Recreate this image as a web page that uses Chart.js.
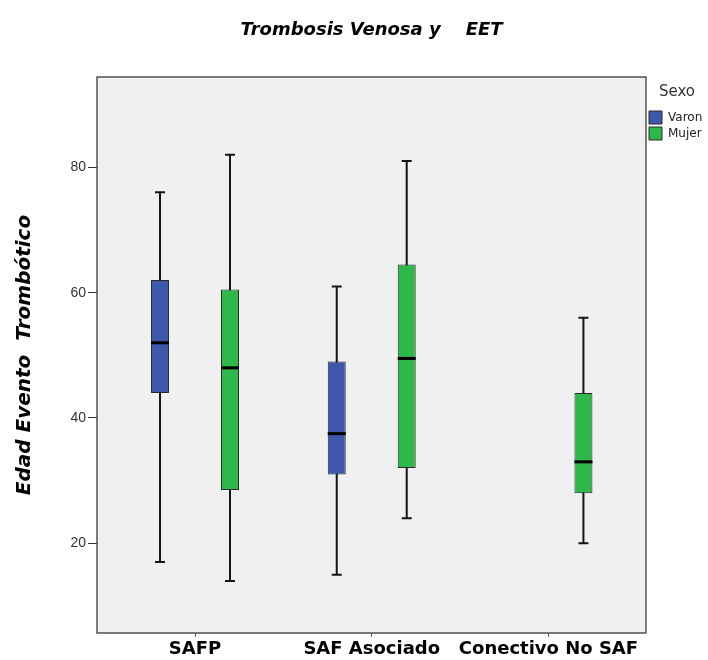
<!DOCTYPE html>
<html>
<head>
<meta charset="utf-8">
<script src="https://cdn.jsdelivr.net/npm/chart.js@4.4.1/dist/chart.umd.min.js"></script>
<style>
html, body { margin: 0; padding: 0; background: #ffffff; }
#wrap { width: 708px; height: 660px; }
</style>
</head>
<body>
<div id="wrap"><canvas id="c" width="708" height="660"></canvas></div>
<script>
// ---- data ----
const categories = ['SAFP', 'SAF Asociado', 'Conectivo No SAF'];
const seriesNames = ['Varon', 'Mujer'];

const varonMin    = [17, 15, null];
const varonQ1     = [44, 31, null];
const varonMedian = [52, 37.5, null];
const varonQ3     = [62, 49, null];
const varonMax    = [76, 61, null];

const mujerMin    = [14, 24, 20];
const mujerQ1     = [28.5, 32, 28];
const mujerMedian = [48, 49.5, 33];
const mujerQ3     = [60.5, 64.5, 44];
const mujerMax    = [82, 81, 56];

const yTicks = [20, 40, 60, 80];

// ---- build ----
function boxData(q1, q3) {
  const pts = [];
  categories.forEach((c, i) => {
    if (q1[i] != null && q3[i] != null) pts.push({ x: i + 1, y: [q1[i], q3[i]] });
  });
  return pts;
}
const stats = [
  { min: varonMin, med: varonMedian, max: varonMax },
  { min: mujerMin, med: mujerMedian, max: mujerMax }
];

const boxPlot = {
  id: 'boxPlot',
  beforeDraw(chart) {
    const { ctx, chartArea: a } = chart;
    ctx.save();
    ctx.fillStyle = '#f0f0f0';
    ctx.fillRect(a.left, a.top, a.right - a.left, a.bottom - a.top);
    ctx.restore();
  },
  beforeDatasetsDraw(chart) {
    const { ctx } = chart;
    const y = chart.scales.y;
    ctx.save();
    ctx.strokeStyle = '#141414';
    ctx.lineWidth = 2;
    chart.data.datasets.forEach((ds, d) => {
      const meta = chart.getDatasetMeta(d);
      meta.data.forEach((bar, i) => {
        const k = ds.data[i].x - 1;
        const x = bar.x;
        const y0 = y.getPixelForValue(stats[d].min[k]);
        const y1 = y.getPixelForValue(stats[d].max[k]);
        ctx.beginPath();
        ctx.moveTo(x, y0); ctx.lineTo(x, y1);
        ctx.moveTo(x - 5, y0); ctx.lineTo(x + 5, y0);
        ctx.moveTo(x - 5, y1); ctx.lineTo(x + 5, y1);
        ctx.stroke();
      });
    });
    ctx.restore();
  },
  afterDatasetsDraw(chart) {
    const { ctx, chartArea: a } = chart;
    const y = chart.scales.y;
    ctx.save();
    ctx.strokeStyle = '#000000';
    ctx.lineWidth = 3;
    chart.data.datasets.forEach((ds, d) => {
      const meta = chart.getDatasetMeta(d);
      meta.data.forEach((bar, i) => {
        const k = ds.data[i].x - 1;
        const ym = y.getPixelForValue(stats[d].med[k]);
        ctx.beginPath();
        ctx.moveTo(bar.x - bar.width / 2, ym);
        ctx.lineTo(bar.x + bar.width / 2, ym);
        ctx.stroke();
      });
    });
    ctx.strokeStyle = '#505050';
    ctx.lineWidth = 1.5;
    ctx.strokeRect(a.left, a.top, a.right - a.left, a.bottom - a.top);
    ctx.restore();
  }
};

new Chart(document.getElementById('c'), {
  type: 'bar',
  data: {
    datasets: [
      {
        label: seriesNames[0],
        data: boxData(varonQ1, varonQ3),
        backgroundColor: '#3e58ac',
        borderColor: '#2a2a2a',
        borderWidth: 1,
        borderSkipped: false
      },
      {
        label: seriesNames[1],
        data: boxData(mujerQ1, mujerQ3),
        backgroundColor: '#2fb84a',
        borderColor: '#2a2a2a',
        borderWidth: 1,
        borderSkipped: false
      }
    ]
  },
  options: {
    responsive: false,
    animation: false,
    devicePixelRatio: 1,
    layout: { padding: 0 },
    datasets: { bar: { categoryPercentage: 0.792, barPercentage: 0.257 } },
    plugins: {
      tooltip: { enabled: false },
      title: {
        display: true,
        fullSize: false,
        text: 'Trombosis Venosa y    EET',
        color: '#000000',
        font: { family: 'DejaVu Sans', size: 18, weight: 'bold', style: 'italic' },
        padding: { top: 20, bottom: 35.4 }
      },
      legend: {
        position: 'right',
        align: 'start',
        fullSize: false,
        maxWidth: 62,
        title: {
          display: true,
          text: 'Sexo',
          color: '#333333',
          font: { family: 'DejaVu Sans', size: 15 },
          padding: { top: 8, bottom: 5 }
        },
        labels: {
          boxWidth: 13,
          boxHeight: 13,
          padding: 3,
          color: '#222222',
          font: { family: 'DejaVu Sans', size: 12 }
        }
      }
    },
    scales: {
      x: {
        type: 'linear',
        min: 0.4454,
        max: 3.552,
        offset: false,
        border: { display: false },
        grid: { offset: false, drawOnChartArea: false, drawTicks: true, tickLength: 4, color: '#555555' },
        afterBuildTicks: s => { s.ticks = categories.map((c, i) => ({ value: i + 1 })); },
        afterFit: s => { s.height = 27; },
        ticks: {
          autoSkip: false,
          maxRotation: 0,
          padding: 2,
          color: '#000000',
          font: { family: 'DejaVu Sans', size: 18, weight: 'bold' },
          callback: v => categories[Math.round(v) - 1]
        }
      },
      y: {
        type: 'linear',
        min: 5.69,
        max: 94.41,
        border: { display: false },
        grid: { drawOnChartArea: false, drawTicks: true, tickLength: 9, color: '#333333' },
        afterBuildTicks: s => { s.ticks = yTicks.map(v => ({ value: v })); },
        afterFit: s => { s.width = 97; },
        ticks: {
          padding: 2,
          color: '#333333',
          font: { family: 'Liberation Sans', size: 14 }
        },
        title: {
          display: true,
          text: 'Edad Evento  Trombótico',
          color: '#000000',
          font: { family: 'DejaVu Sans', size: 20, weight: 'bold', style: 'italic' },
          padding: { top: 13, bottom: 0 }
        }
      }
    }
  },
  plugins: [boxPlot]
});
</script>
</body>
</html>
